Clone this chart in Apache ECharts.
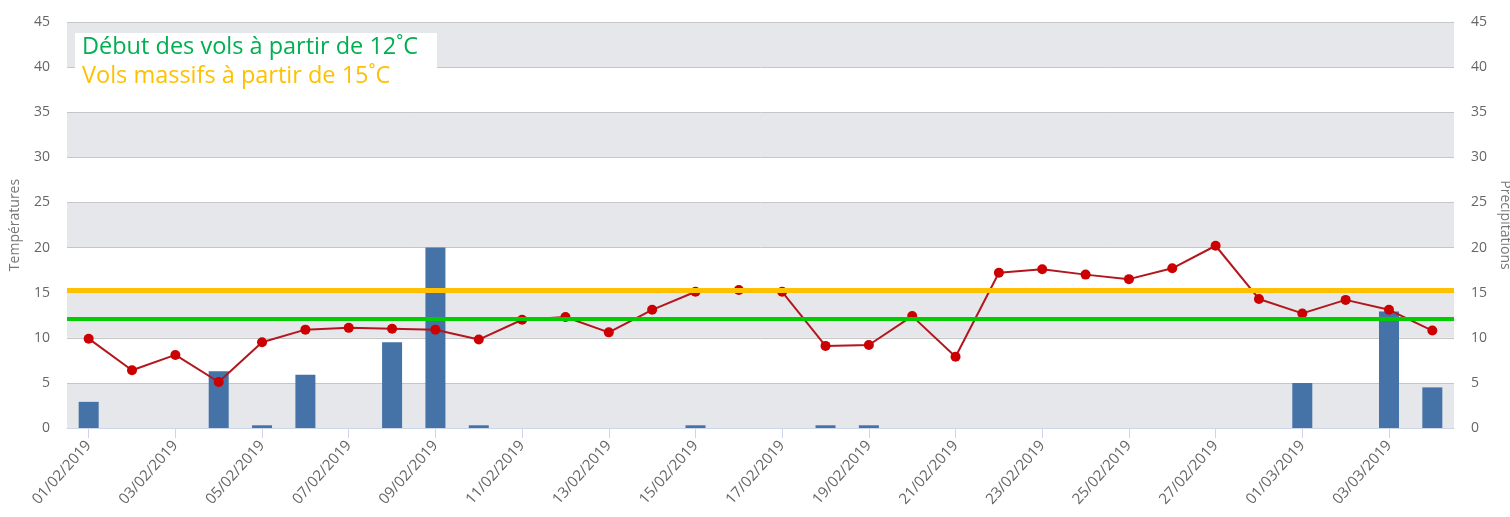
<!DOCTYPE html>
<html>
<head>
<meta charset="utf-8">
<script src="https://cdn.jsdelivr.net/npm/echarts@6/dist/echarts.min.js"></script>
<style>
html,body{margin:0;padding:0;background:#fff;}
#chart{width:1510px;height:517px;}
</style>
</head>
<body>
<div id="chart"></div>
<script>
const categories = ['01/02/2019','02/02/2019','03/02/2019','04/02/2019','05/02/2019','06/02/2019','07/02/2019','08/02/2019','09/02/2019','10/02/2019','11/02/2019','12/02/2019','13/02/2019','14/02/2019','15/02/2019','16/02/2019','17/02/2019','18/02/2019','19/02/2019','20/02/2019','21/02/2019','22/02/2019','23/02/2019','24/02/2019','25/02/2019','26/02/2019','27/02/2019','28/02/2019','01/03/2019','02/03/2019','03/03/2019','04/03/2019'];
const temperatures = [9.9,6.4,8.1,5.1,9.5,10.9,11.1,11.0,10.9,9.8,12.0,12.3,10.6,13.1,15.1,15.3,15.1,9.1,9.2,12.4,7.9,17.2,17.6,17.0,16.5,17.7,20.2,14.3,12.7,14.2,13.1,10.8];
const precipitations = [2.9,0,0,6.3,0.3,5.9,0,9.5,20,0.3,0,0,0,0,0.3,0,0,0.3,0.3,0,0,0,0,0,0,0,0,0,5,0,12.9,4.5];
const yTicks = {min:0, max:45, interval:5};
const greenLevel = 12.1;
const orangeLevel = 15.3;
const legendLines = ['Début des vols à partir de 12˚C','Vols massifs à partir de 15˚C'];

const chart = echarts.init(document.getElementById('chart'));
const font = "'Open Sans', 'DejaVu Sans', sans-serif";
chart.setOption({
  animation:false,
  backgroundColor:'#fff',
  grid:{left:67,right:56,top:22,bottom:89,containLabel:false,outerBoundsMode:'none'},
  xAxis:{
    type:'category',
    data:categories,
    boundaryGap:true,
    axisLine:{show:true,lineStyle:{color:'#ccd6eb',width:1}},
    axisTick:{show:true,alignWithLabel:true,interval:1,length:10,lineStyle:{color:'#ccd6eb'}},
    axisLabel:{interval:1,rotate:48,color:'#666',fontSize:15,fontFamily:font,margin:15},
    splitLine:{show:false}
  },
  yAxis:[
    {type:'value',min:yTicks.min,max:yTicks.max,interval:yTicks.interval,
     name:'Températures',nameLocation:'middle',nameGap:45,
     nameTextStyle:{color:'#777',fontSize:14,fontFamily:font},
     axisLine:{show:false},axisTick:{show:false},
     axisLabel:{color:'#666',fontSize:14,fontFamily:font,margin:17},
     splitLine:{show:true,lineStyle:{color:'#c6c6c6',width:1}},
     splitArea:{show:true,areaStyle:{color:['#e6e7eb','#ffffff']}}},
    {type:'value',min:yTicks.min,max:yTicks.max,interval:yTicks.interval,
     name:'Précipitations',nameLocation:'middle',nameGap:43,nameRotate:-90,
     nameTextStyle:{color:'#777',fontSize:14,fontFamily:font},
     axisLine:{show:false},axisTick:{show:false},
     axisLabel:{color:'#666',fontSize:14,fontFamily:font,margin:17},
     splitLine:{show:false},splitArea:{show:false}}
  ],
  series:[
    {type:'bar',name:'Précipitations',yAxisIndex:1,data:precipitations,barWidth:20,z:2,
     itemStyle:{color:'#4572a7'}},
    {type:'line',name:'seuils',yAxisIndex:0,data:[],z:3,
     markLine:{symbol:'none',silent:true,label:{show:false},
       data:[
         {yAxis:orangeLevel,lineStyle:{color:'#ffc000',width:5,type:'solid'}},
         {yAxis:greenLevel,lineStyle:{color:'#00cc00',width:4,type:'solid'}}
       ]}},
    {type:'line',name:'Températures',yAxisIndex:0,data:temperatures,z:4,
     symbol:'circle',symbolSize:10,
     lineStyle:{color:'#b3161d',width:2},
     itemStyle:{color:'#cc0000'}}
  ],
  graphic:[
    {type:'rect',left:75,top:33,shape:{width:362,height:64},style:{fill:'#ffffff'},z:10},
    {type:'text',left:82,top:35,z:11,style:{text:legendLines[0],fill:'#00b050',font:"23.5px 'Open Sans', sans-serif"}},
    {type:'text',left:82,top:64,z:11,style:{text:legendLines[1],fill:'#ffc000',font:"23.5px 'Open Sans', sans-serif"}}
  ]
});
</script>
</body>
</html>
